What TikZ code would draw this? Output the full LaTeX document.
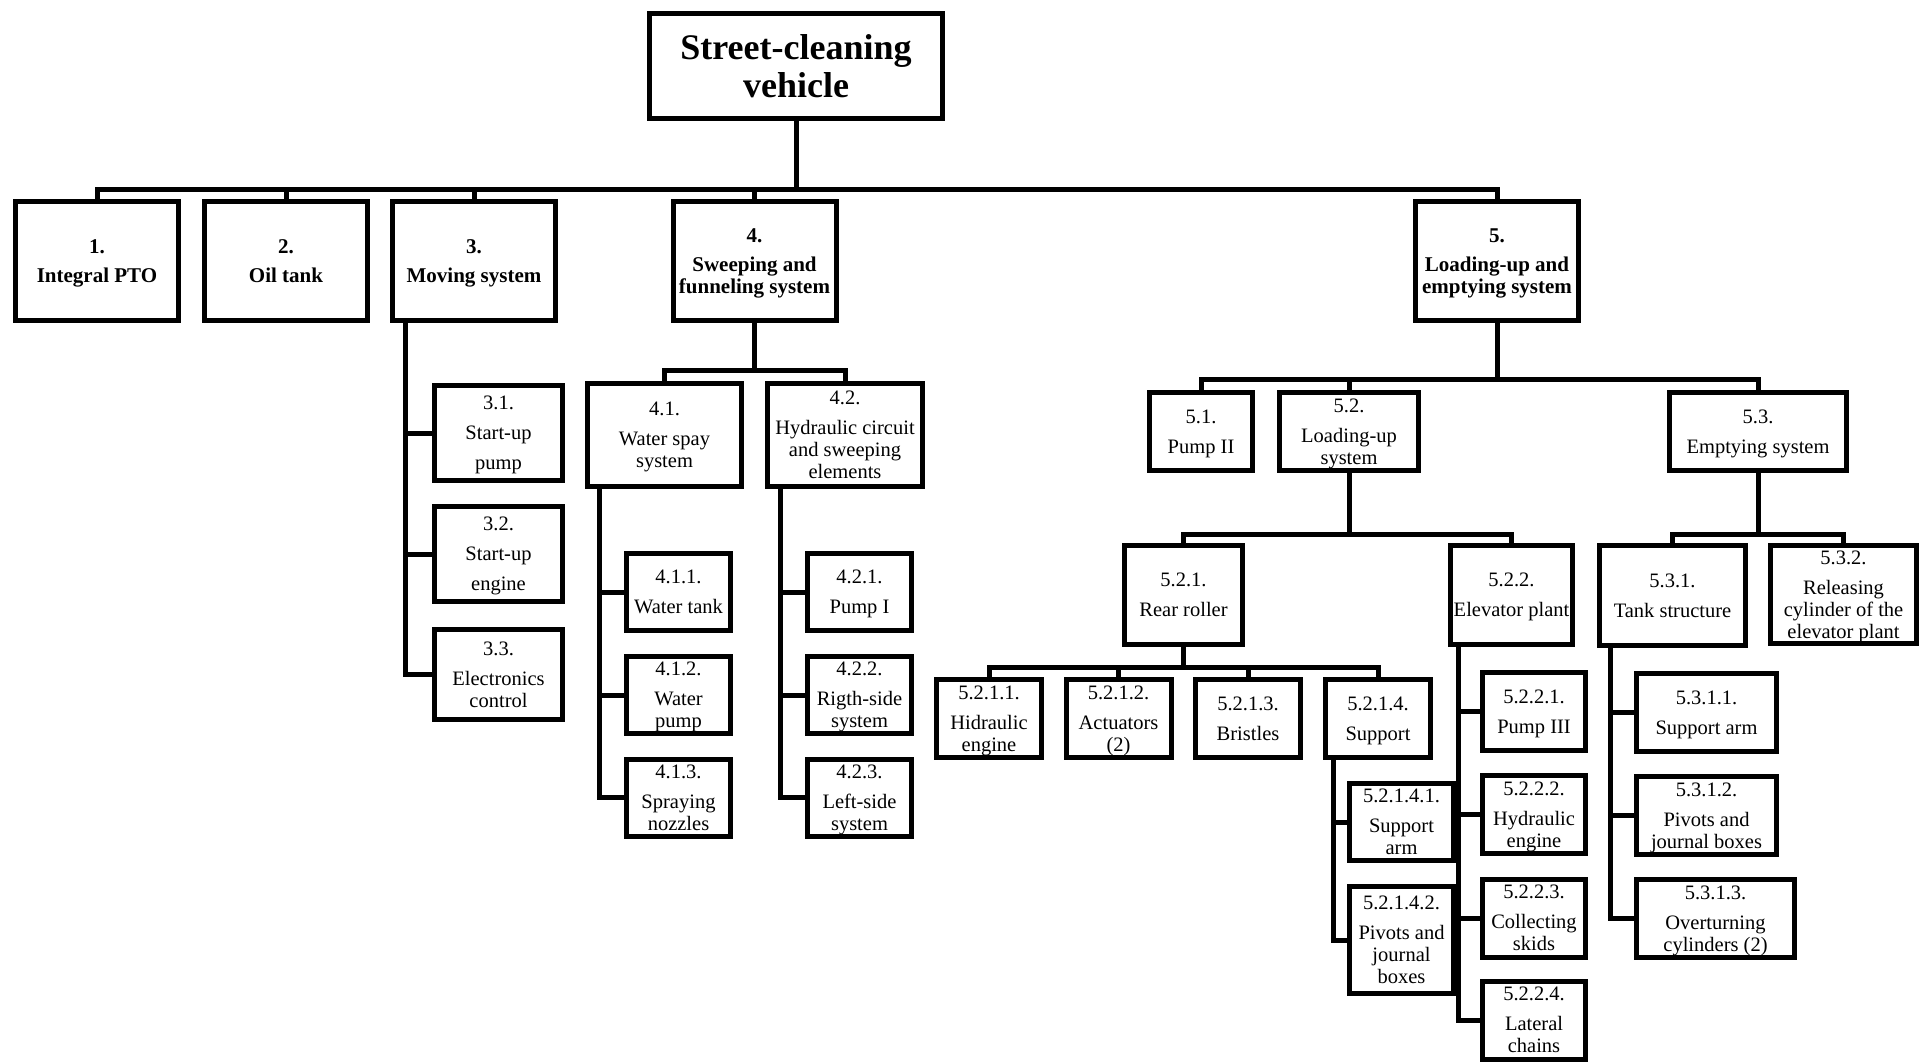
\documentclass[tikz,border=0pt]{standalone}
\usepackage{fontspec}
\setmainfont{Liberation Serif}

\begin{document}
\begin{tikzpicture}[
        x=1pt, y=-1pt,
        box/.style={draw, line width=5pt, inner sep=0pt, align=center, text depth=0pt,
            font=\fontsize{20.5}{22}\selectfont},
        boxsize/.style 2 args={minimum width=#1pt, minimum height=#2pt},
        main/.style={box, boxsize={163}{119}, font=\fontsize{21}{22}\selectfont\bfseries},
        leaf/.style={box, boxsize={104}{77}},
        link/.style={line width=5pt}
    ]
    \useasboundingbox (0,0) rectangle (1919,1062);

    \node[box, boxsize={293}{105}, font=\fontsize{36}{38}\selectfont\bfseries]
        (root) at (796,66) {Street-cleaning\\vehicle};

    \node[main] (n1) at (97,261) {1.\\[7pt]Integral PTO};
    \node[main] (n2) at (286,261) {2.\\[7pt]Oil tank};
    \node[main] (n3) at (474,261) {3.\\[7pt]Moving system};
    \node[main] (n4) at (754.5,261) {4.\\[7pt]Sweeping and\\funneling system};
    \node[main] (n5) at (1497,261) {5.\\[7pt]Loading-up and\\emptying system};

    \node[box, boxsize={128}{95}] (n31) at (498.5,433) {3.1.\\[8pt]Start-up\\[8pt]pump};
    \node[box, boxsize={128}{95}] (n32) at (498.5,554) {3.2.\\[8pt]Start-up\\[8pt]engine};
    \node[box, boxsize={128}{90}] (n33) at (498.5,674.5) {3.3.\\[8pt]Electronics\\control};

    \node[box, boxsize={154.5}{103}] (n41) at (664.5,435) {4.1.\\[8pt]Water spay\\system};
    \node[box, boxsize={155}{103}] (n42) at (845,435) {4.2.\\[8pt]Hydraulic circuit\\and sweeping\\elements};

    \node[leaf] (n411) at (678.5,592) {4.1.1.\\[8pt]Water tank};
    \node[leaf] (n412) at (678.5,695) {4.1.2.\\[8pt]Water\\pump};
    \node[leaf] (n413) at (678.5,797.5) {4.1.3.\\[8pt]Spraying\\nozzles};
    \node[leaf] (n421) at (859.5,592) {4.2.1.\\[8pt]Pump I};
    \node[leaf] (n422) at (859.5,695) {4.2.2.\\[8pt]Rigth-side\\system};
    \node[leaf] (n423) at (859.5,797.5) {4.2.3.\\[8pt]Left-side\\system};

    \node[box, boxsize={103}{78}] (n51) at (1201,431.5) {5.1.\\[8pt]Pump II};
    \node[box, boxsize={139}{78}] (n52) at (1349,431.5) {5.2.\\[8pt]Loading-up\\system};
    \node[box, boxsize={177}{78}] (n53) at (1758,431.5) {5.3.\\[8pt]Emptying system};

    \node[box, boxsize={118}{99}] (n521) at (1183.5,595) {5.2.1.\\[8pt]Rear roller};
    \node[box, boxsize={122}{99}] (n522) at (1511.5,595) {5.2.2.\\[8pt]Elevator plant};
    \node[box, boxsize={146}{100}] (n531) at (1672.5,595.5) {5.3.1.\\[8pt]Tank structure};
    \node[box, boxsize={146}{98}] (n532) at (1843.5,594.5)
        {5.3.2.\\[8pt]Releasing\\cylinder of the\\elevator plant};

    \node[box, boxsize={105}{78}] (n5211) at (989,718.5) {5.2.1.1.\\[8pt]Hidraulic\\engine};
    \node[box, boxsize={105}{78}] (n5212) at (1118.5,718.5) {5.2.1.2.\\[8pt]Actuators\\(2)};
    \node[box, boxsize={105}{78}] (n5213) at (1248,718.5) {5.2.1.3.\\[8pt]Bristles};
    \node[box, boxsize={105}{78}] (n5214) at (1378,718.5) {5.2.1.4.\\[8pt]Support};

    \node[leaf] (n52141) at (1401.5,822) {5.2.1.4.1.\\[8pt]Support\\arm};
    \node[leaf, boxsize={104}{107}] (n52142) at (1401.5,940)
        {5.2.1.4.2.\\[8pt]Pivots and\\journal\\boxes};

    \node[box, boxsize={103}{78}] (n5221) at (1534,711.5) {5.2.2.1.\\[8pt]Pump III};
    \node[box, boxsize={103}{78}] (n5222) at (1534,814.5) {5.2.2.2.\\[8pt]Hydraulic\\engine};
    \node[box, boxsize={103}{78}] (n5223) at (1534,918) {5.2.2.3.\\[8pt]Collecting\\skids};
    \node[box, boxsize={103}{78}] (n5224) at (1534,1020) {5.2.2.4.\\[8pt]Lateral\\chains};

    \node[box, boxsize={140}{78}] (n5311) at (1706.5,712.5) {5.3.1.1.\\[8pt]Support arm};
    \node[box, boxsize={140}{78}] (n5312) at (1706.5,815.5) {5.3.1.2.\\[8pt]Pivots and\\journal boxes};
    \node[box, boxsize={158}{78}] (n5313) at (1715.5,918.5) {5.3.1.3.\\[8pt]Overturning\\cylinders (2)};

    \coordinate (bus1) at (0,189);
    \coordinate (bus4) at (0,370);
    \coordinate (bus5) at (0,379);
    \coordinate (bus52) at (0,534);
    \coordinate (bus53) at (0,534);
    \coordinate (bus521) at (0,667);

    \foreach \From/\Bus/\To in {root/bus1/n1, root/bus1/n2, root/bus1/n3, root/bus1/n4, root/bus1/n5,
            n4/bus4/n41, n4/bus4/n42, n5/bus5/n51, n5/bus5/n52, n5/bus5/n53,
            n52/bus52/n521, n52/bus52/n522, n53/bus53/n531, n53/bus53/n532,
            n521/bus521/n5211, n521/bus521/n5212, n521/bus521/n5213, n521/bus521/n5214}
        \draw[link] (\From.south) |- (\Bus -| \To.north) -- (\To.north);

    \foreach \From/\Shift/\To in {n3/15/n31, n3/15/n32, n3/15/n33,
            n41/15/n411, n41/15/n412, n41/15/n413, n42/15/n421, n42/15/n422, n42/15/n423,
            n5214/10/n52141, n5214/10/n52142,
            n522/10.5/n5221, n522/10.5/n5222, n522/10.5/n5223, n522/10.5/n5224,
            n531/13/n5311, n531/13/n5312, n531/13/n5313}
        \draw[link] ([xshift=\Shift]\From.south west) |- (\To.west);
\end{tikzpicture}
\end{document}
